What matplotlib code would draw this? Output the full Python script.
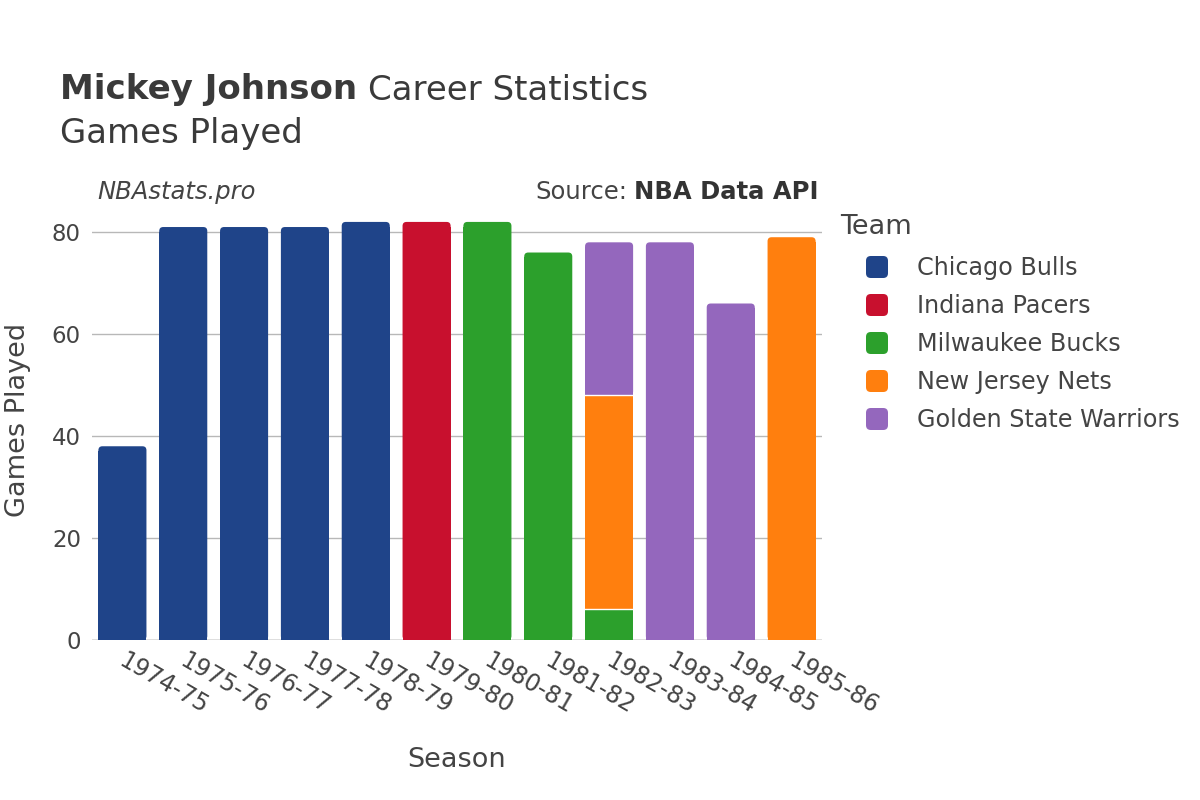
import matplotlib
matplotlib.use("Agg")
import matplotlib.pyplot as plt
import matplotlib.transforms as mtransforms
from matplotlib.patches import FancyBboxPatch, Rectangle
import numpy as np

seasons = ["1974-75", "1975-76", "1976-77", "1977-78", "1978-79", "1979-80",
           "1980-81", "1981-82", "1982-83", "1983-84", "1984-85", "1985-86"]
teams = ["Chicago Bulls", "Indiana Pacers", "Milwaukee Bucks",
         "New Jersey Nets", "Golden State Warriors"]
colors = ["#1f4489", "#c8102e", "#2ca02c", "#ff7f0e", "#9467bd"]

# games per team for each season (stacked in team order)
chi = [38, 81, 81, 81, 82, 0, 0, 0, 0, 0, 0, 0]
ind = [0, 0, 0, 0, 0, 82, 0, 0, 0, 0, 0, 0]
mil = [0, 0, 0, 0, 0, 0, 82, 76, 6, 0, 0, 0]
njn = [0, 0, 0, 0, 0, 0, 0, 0, 42, 0, 0, 79]
gsw = [0, 0, 0, 0, 0, 0, 0, 0, 30, 78, 66, 0]
series = [chi, ind, mil, njn, gsw]

plt.rcParams['font.family'] = ['DejaVu Sans']
fig = plt.figure(figsize=(12, 8), dpi=100)
ax = fig.add_axes([92 / 1200, 1 - 640 / 800, 730 / 1200, (640 - 200) / 800])

ymax = 86.3
xlo, xhi = -0.5, len(seasons) - 0.5
ax.set_xlim(xlo, xhi)
ax.set_ylim(0, ymax)

width = 0.79
# corner radius in data units (~4 px)
px_x = (xhi - xlo) / 730.0
px_y = ymax / 440.0
rx = 4 * px_x
ry = 4 * px_y

x = np.arange(len(seasons))
bottoms = np.zeros(len(seasons))
tops = np.array(series).sum(axis=0)
for vals, col in zip(series, colors):
    for i, v in enumerate(vals):
        if v <= 0:
            continue
        b = bottoms[i]
        left = x[i] - width / 2
        if abs(b + v - tops[i]) < 1e-9:
            # top segment: rounded top corners
            p = FancyBboxPatch((left, b), width, v,
                               boxstyle="round,pad=0,rounding_size=%f" % rx,
                               mutation_aspect=ry / rx, facecolor=col,
                               edgecolor="none", zorder=3)
            ax.add_patch(p)
            ax.add_patch(Rectangle((left, b), width, v - ry * 1.2,
                                   facecolor=col, edgecolor="none", zorder=3))
        else:
            ax.add_patch(Rectangle((left, b), width, v, facecolor=col,
                                   edgecolor="none", zorder=3))
        if b > 0:
            ax.plot([left, left + width], [b, b], color="white", lw=1.0, zorder=4)
    bottoms += np.array(vals)

for s in ax.spines.values():
    s.set_visible(False)
ax.set_yticks([0, 20, 40, 60, 80])
ax.grid(axis="y", color="#b8b8b8", lw=1, zorder=0)
ax.axhline(0, color="#e6e6e6", lw=2, zorder=1)
ax.tick_params(axis="y", length=0, labelsize=16.5, colors="#444444", pad=8)
ax.tick_params(axis="x", length=0, labelsize=17, colors="#444444", pad=6)
ax.set_xticks(x)
ax.set_xticklabels(seasons, rotation=-30, ha="left", va="top",
                   rotation_mode="anchor")
shift = mtransforms.ScaledTranslation(5 / 100, 0, fig.dpi_scale_trans)
for lbl in ax.get_xticklabels():
    lbl.set_transform(lbl.get_transform() + shift)

ax.set_xlabel("Season", fontsize=19.5, color="#444444")
ax.set_ylabel("Games Played", fontsize=19.5, color="#444444")
ax.xaxis.set_label_coords((457 - 92) / 730, -(747 - 640) / 440)
ax.yaxis.set_label_coords(-(92 - 31) / 730, (640 - 420) / 440)

# titles
fig.text(60 / 1200, 1 - 90 / 800, "Mickey Johnson", fontsize=24.5, fontweight="bold",
         color="#3a3a3a", va="center", ha="left")
fig.text(368 / 1200, 1 - 90 / 800, "Career Statistics", fontsize=24.5,
         color="#3a3a3a", va="center", ha="left")
fig.text(60 / 1200, 1 - 134 / 800, "Games Played", fontsize=24.5,
         color="#3a3a3a", va="center", ha="left")
fig.text(97 / 1200, 1 - 192 / 800, "NBAstats.pro", fontsize=17.5, style="italic",
         color="#444444", va="center", ha="left")
fig.text(818 / 1200, 1 - 192 / 800, "NBA Data API", fontsize=17.5, fontweight="bold",
         color="#333333", va="center", ha="right")
fig.text(627 / 1200, 1 - 192 / 800, "Source:", fontsize=17.5,
         color="#444444", va="center", ha="right")

# legend
fig.text(840 / 1200, 1 - 227 / 800, "Team", fontsize=19.5, color="#444444",
         va="center", ha="left")
for k, (t, c) in enumerate(zip(teams, colors)):
    yc = 267 + 38 * k
    sq = FancyBboxPatch((866 / 1200, 1 - (yc + 11) / 800), 22 / 1200, 22 / 800,
                        boxstyle="round,pad=0,rounding_size=0.004",
                        mutation_aspect=1.5, transform=fig.transFigure,
                        facecolor=c, edgecolor="none")
    fig.patches.append(sq)
    fig.text(917 / 1200, 1 - (yc + 1) / 800, t, fontsize=17.2, color="#444444",
             va="center", ha="left")

fig.savefig("out.png", dpi=100)
